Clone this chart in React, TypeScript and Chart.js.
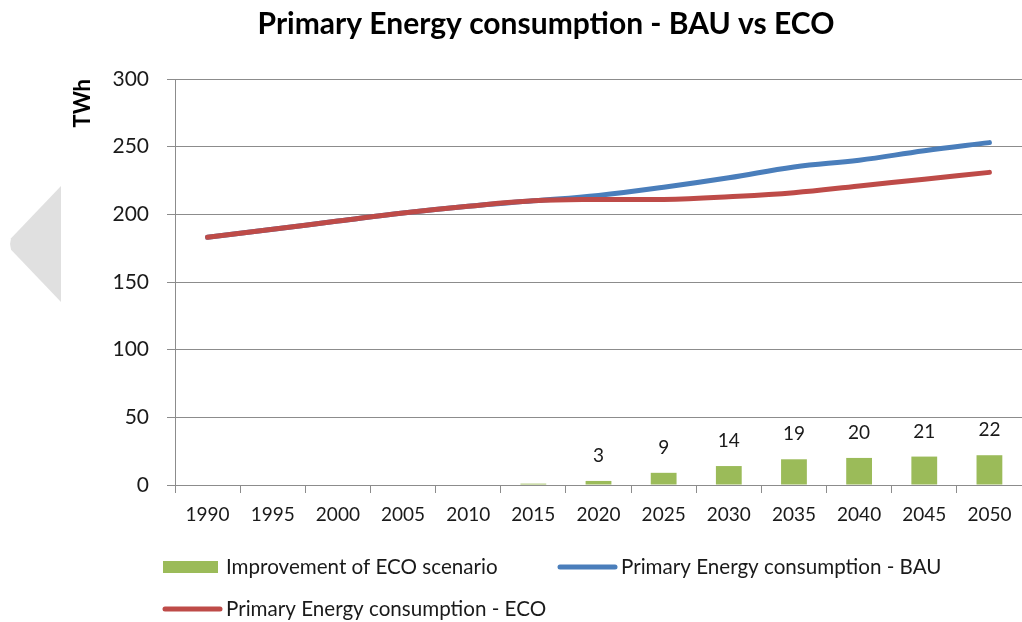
import React, { useEffect, useRef } from "react";
import { Chart, registerables } from "chart.js";

Chart.register(...registerables);

const years = ["1990", "1995", "2000", "2005", "2010", "2015", "2020", "2025", "2030", "2035", "2040", "2045", "2050"];
const improvement = [0, 0, 0, 0, 0, 1, 3, 9, 14, 19, 20, 21, 22];
const improvementLabels = ["", "", "", "", "", "", "3", "9", "14", "19", "20", "21", "22"];
const bau = [183, 189, 195, 201, 206, 210, 214, 220, 227, 235, 240, 247, 253];
const eco = [183, 189, 195, 201, 206, 210, 211, 211, 213, 216, 221, 226, 231];

const seriesNames = ["Improvement of ECO scenario", "Primary Energy consumption - BAU", "Primary Energy consumption - ECO"];
const GREEN = "#9bbb59";
const BLUE = "#4a7ebb";
const RED = "#be4b48";
const GRID = "#8c8c8c";
const FONT = "Lato";

const labelPlugin = {
  id: "barLabels",
  afterDatasetsDraw(chart: any) {
    const meta = chart.getDatasetMeta(0);
    const ctx = chart.ctx;
    ctx.save();
    ctx.font = `19px ${FONT}`;
    ctx.fillStyle = "#1a1a1a";
    ctx.textAlign = "center";
    ctx.textBaseline = "middle";
    meta.data.forEach((el: any, i: number) => {
      const t = improvementLabels[i];
      if (t) ctx.fillText(t, el.x, el.y - 25);
    });
    ctx.restore();
  },
};

const legendPlugin = {
  id: "gridLegend",
  afterDraw(chart: any) {
    const ctx = chart.ctx;
    const items = [
      { x: 163, y: 567, type: "box", color: GREEN, text: seriesNames[0] },
      { x: 558, y: 567, type: "line", color: BLUE, text: seriesNames[1] },
      { x: 163, y: 609, type: "line", color: RED, text: seriesNames[2] },
    ];
    ctx.save();
    ctx.font = `20.6px ${FONT}`;
    ctx.textBaseline = "middle";
    ctx.textAlign = "left";
    items.forEach((it) => {
      if (it.type === "box") {
        ctx.fillStyle = it.color;
        ctx.fillRect(it.x, it.y - 6, 55, 12);
      } else {
        ctx.strokeStyle = it.color;
        ctx.lineWidth = 5;
        ctx.lineCap = "round";
        ctx.beginPath();
        ctx.moveTo(it.x + 2, it.y);
        ctx.lineTo(it.x + 57, it.y);
        ctx.stroke();
      }
      ctx.fillStyle = "#1a1a1a";
      ctx.fillText(it.text, it.x + 63, it.y);
    });
    ctx.restore();
  },
};

export default function App() {
  const ref = useRef<HTMLCanvasElement>(null);
  useEffect(() => {
    if (!ref.current) return;
    const chart = new Chart(ref.current, {
      type: "bar",
      data: {
        labels: years,
        datasets: [
          {
            type: "bar",
            label: seriesNames[0],
            data: improvement,
            backgroundColor: GREEN,
            barPercentage: 0.55,
            categoryPercentage: 0.72,
            order: 3,
          } as any,
          {
            type: "line",
            label: seriesNames[1],
            data: bau,
            borderColor: BLUE,
            backgroundColor: BLUE,
            borderWidth: 5,
            pointRadius: 0,
            tension: 0.4,
            borderCapStyle: "round",
            order: 2,
          },
          {
            type: "line",
            label: seriesNames[2],
            data: eco,
            borderColor: RED,
            backgroundColor: RED,
            borderWidth: 5,
            pointRadius: 0,
            tension: 0.4,
            borderCapStyle: "round",
            order: 1,
          },
        ],
      },
      options: {
        responsive: false,
        animation: false,
        layout: { padding: { left: 70, right: 0, top: 0, bottom: 87 } },
        plugins: {
          legend: { display: false },
          tooltip: { enabled: false },
          title: {
            display: true,
            text: "Primary Energy consumption - BAU vs ECO",
            color: "#000",
            font: { family: FONT, size: 30, weight: "bold" },
            padding: { top: 6, bottom: 37 },
          },
        },
        scales: {
          x: {
            offset: true,
            grid: { display: true, offset: true, drawOnChartArea: false, color: GRID, tickLength: 8 },
            border: { color: GRID },
            ticks: { color: "#1a1a1a", font: { family: FONT, size: 19 }, padding: 10, maxRotation: 0 },
            afterFit: (s: any) => { s.height = 50; },
          },
          y: {
            min: 0,
            max: 300,
            ticks: { stepSize: 50, color: "#1a1a1a", font: { family: FONT, size: 21 }, padding: 18 },
            grid: { color: GRID, tickLength: 8 },
            border: { color: GRID },
            title: {
              display: true,
              text: "TWh",
              align: "end",
              color: "#000",
              padding: { top: 0, bottom: 4 },
              font: { family: FONT, size: 22, weight: "bold" },
            },
            afterFit: (s: any) => { s.width = 105; },
          },
        },
      },
      plugins: [labelPlugin, legendPlugin],
    });
    return () => chart.destroy();
  }, []);
  return (
    <div style={{ position: "fixed", left: 0, top: 0, width: 1022, height: 622, background: "#fff" }}>
      <canvas ref={ref} width={1022} height={622} />
      <div
        style={{
          position: "absolute",
          left: 9,
          top: 186,
          width: 52,
          height: 116,
          background: "#e0e0e0",
          clipPath: "polygon(100% 0, 100% 100%, 4% 55%, 2% 50%, 4% 45%)",
        }}
      />
    </div>
  );
}
